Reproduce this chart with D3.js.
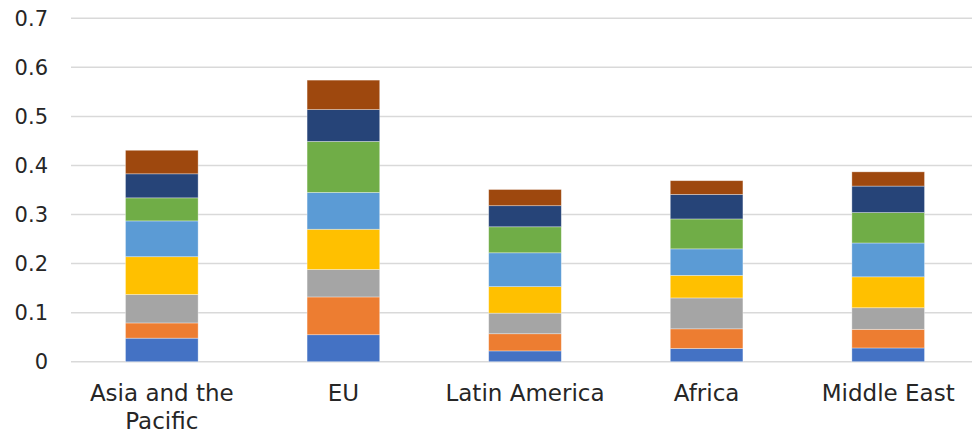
<!DOCTYPE html>
<html>
<head>
<meta charset="utf-8">
<script src="https://cdn.jsdelivr.net/npm/d3@7"></script>
<style>
  html, body { margin: 0; padding: 0; background: #ffffff; }
  svg { display: block; }
  text { font-family: "DejaVu Sans", sans-serif; fill: #262626; }
</style>
</head>
<body>
<svg id="chart" width="972" height="433"></svg>
<script>
// Regions along the horizontal axis
const categories = ["Asia and the Pacific", "EU", "Latin America", "Africa", "Middle East"];
// Label lines drawn under each bar
const categoryLines = [["Asia and the", "Pacific"], ["EU"], ["Latin America"], ["Africa"], ["Middle East"]];

// Stacked components, bottom to top, one value per region
const series1 = [0.048, 0.055, 0.022, 0.027, 0.028];
const series2 = [0.031, 0.077, 0.035, 0.040, 0.038];
const series3 = [0.058, 0.056, 0.042, 0.063, 0.044];
const series4 = [0.077, 0.082, 0.054, 0.046, 0.063];
const series5 = [0.073, 0.075, 0.069, 0.054, 0.069];
const series6 = [0.047, 0.104, 0.053, 0.061, 0.062];
const series7 = [0.049, 0.065, 0.043, 0.050, 0.054];
const series8 = [0.048, 0.060, 0.033, 0.028, 0.029];

const seriesValues = [series1, series2, series3, series4, series5, series6, series7, series8];
const seriesColors = ["#4472C4", "#ED7D31", "#A5A5A5", "#FFC000", "#5B9BD5", "#70AD47", "#264478", "#9E480E"];

const yTicks = [0, 0.1, 0.2, 0.3, 0.4, 0.5, 0.6, 0.7];
const yTickLabels = ["0", "0.1", "0.2", "0.3", "0.4", "0.5", "0.6", "0.7"];

// Build rows for d3.stack
const keys = seriesValues.map((_, i) => "s" + i);
const rows = categories.map((c, ci) => {
  const r = { category: c };
  seriesValues.forEach((s, si) => { r[keys[si]] = s[ci]; });
  return r;
});

const svg = d3.select("#chart");

const x = d3.scaleBand()
  .domain(categories)
  .range([71, 979])
  .paddingInner(0.6)
  .paddingOuter(0.3);

const y = d3.scaleLinear()
  .domain([0, 0.7])
  .range([361.7, 18.3]);

// Horizontal gridlines
svg.append("g")
  .selectAll("line")
  .data(yTicks)
  .join("line")
  .attr("x1", 71)
  .attr("x2", 972)
  .attr("y1", d => y(d))
  .attr("y2", d => y(d))
  .attr("stroke", "#d9d9d9")
  .attr("stroke-width", 1.5);

// Y tick labels
svg.append("g")
  .selectAll("text")
  .data(yTicks)
  .join("text")
  .attr("x", 48)
  .attr("y", d => y(d))
  .attr("dy", "0.36em")
  .attr("text-anchor", "end")
  .style("font-size", "21px")
  .text((d, i) => yTickLabels[i]);

// Stacked bars
const stacked = d3.stack().keys(keys)(rows);

svg.append("g")
  .selectAll("g")
  .data(stacked)
  .join("g")
  .attr("fill", (d, i) => seriesColors[i])
  .selectAll("rect")
  .data(d => d)
  .join("rect")
  .attr("x", d => x(d.data.category))
  .attr("width", x.bandwidth())
  .attr("y", d => y(d[1]))
  .attr("height", d => y(d[0]) - y(d[1]))
  .attr("stroke", "rgba(255,255,255,0.45)")
  .attr("stroke-width", 0.75);

// Category labels
const labels = svg.append("g")
  .selectAll("text")
  .data(categories)
  .join("text")
  .attr("x", d => x(d) + x.bandwidth() / 2)
  .attr("y", 400.5)
  .attr("text-anchor", "middle")
  .style("font-size", "23px");

labels.selectAll("tspan")
  .data((d, i) => categoryLines[i])
  .join("tspan")
  .attr("x", function () { return d3.select(this.parentNode).attr("x"); })
  .attr("dy", (d, i) => i === 0 ? 0 : 28)
  .text(d => d);
</script>
</body>
</html>
